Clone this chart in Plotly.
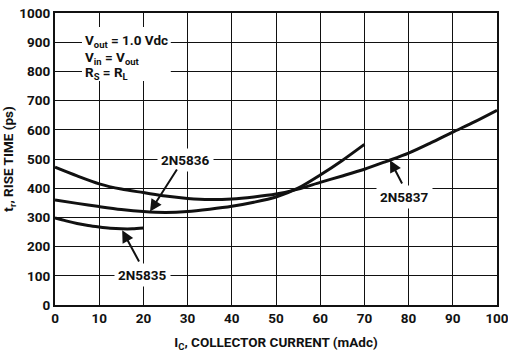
import plotly.graph_objects as go

# Rise time vs collector current for three transistor types
ic_5837 = [0, 5, 10, 15, 20, 25, 30, 35, 40, 45, 50, 55, 60, 65, 70, 75, 80, 85, 90, 95, 100]
tr_5837 = [472, 442, 415, 397, 385, 373, 365, 361, 363, 370, 380, 397, 420, 442, 465, 492, 520, 555, 592, 628, 667]

ic_5836 = [0, 5, 10, 15, 20, 25, 30, 35, 40, 45, 50, 55, 60, 65, 70]
tr_5836 = [360, 348, 337, 327, 320, 317, 320, 328, 338, 352, 370, 400, 445, 495, 550]

ic_5835 = [0, 2.5, 5, 7.5, 10, 12.5, 15, 17.5, 20]
tr_5835 = [298, 288, 279, 272, 267, 263, 261, 261, 264]

x_ticks = [0, 10, 20, 30, 40, 50, 60, 70, 80, 90, 100]
y_ticks = [0, 100, 200, 300, 400, 500, 600, 700, 800, 900, 1000]

FONT = "Roboto, DejaVu Sans, sans-serif"
INK = "#111111"


def txt_font(size=13.5):
    return dict(family=FONT, size=size, color=INK, weight="bold")


fig = go.Figure()
for xs, ys in [(ic_5837, tr_5837), (ic_5836, tr_5836), (ic_5835, tr_5835)]:
    fig.add_trace(go.Scatter(
        x=xs, y=ys, mode="lines",
        line=dict(color=INK, width=3, shape="spline", smoothing=0.8),
        showlegend=False, hoverinfo="skip",
    ))

axis_common = dict(
    showgrid=True, gridcolor=INK, gridwidth=1.3,
    showline=True, linecolor=INK, linewidth=2, mirror=True,
    zeroline=False, ticks="", fixedrange=True, automargin=False,
    ticklabeloverflow="allow", tickfont=txt_font(),
)

fig.update_layout(
    width=508, height=352,
    margin=dict(l=55, r=11, t=13, b=47),
    paper_bgcolor="white", plot_bgcolor="white",
    font=txt_font(),
    xaxis=dict(range=[0, 100], tickvals=x_ticks, ticktext=[str(v) for v in x_ticks],
               title=dict(text="I<sub>C</sub>, COLLECTOR CURRENT (mAdc)", font=txt_font()),
               **axis_common),
    yaxis=dict(range=[0, 1000], tickvals=y_ticks, ticktext=[str(v) for v in y_ticks],
               title=dict(text="t<sub>r</sub>, RISE TIME (ps)", font=txt_font()),
               **axis_common),
)

# White panel behind the test-condition text
fig.add_shape(type="rect", xref="x", yref="y", x0=6.1, x1=26.2, y0=767, y1=952,
              fillcolor="white", line=dict(width=0), layer="above")

conditions = [
    ("V<sub>out</sub> = 1.0 Vdc", 904),
    ("V<sub>in</sub> = V<sub>out</sub>", 846),
    ("R<sub>S</sub> = R<sub>L</sub>", 795),
]
for txt, yv in conditions:
    fig.add_annotation(x=6.4, y=yv, xref="x", yref="y", text=txt, showarrow=False,
                       xanchor="left", yanchor="middle", font=txt_font())

# Device labels
labels = [("2N5836", 29.6, 497), ("2N5835", 19.7, 103), ("2N5837", 79.0, 370)]
for txt, xv, yv in labels:
    fig.add_annotation(x=xv, y=yv, xref="x", yref="y", text=txt, showarrow=False,
                       bgcolor="white", borderpad=3, font=txt_font())

# Leader arrows from labels to curves
arrows = [
    (27.8, 469, 21.5, 320),
    (19.2, 144, 15.2, 256),
    (78.7, 411, 75.8, 496),
]
for x0, y0, x1, y1 in arrows:
    fig.add_annotation(x=x1, y=y1, ax=x0, ay=y0, xref="x", yref="y", axref="x", ayref="y",
                       text="", showarrow=True, arrowhead=2, arrowsize=1.2,
                       arrowwidth=2, arrowcolor=INK, standoff=0)

fig.write_html("out.html", config={"displayModeBar": False})
